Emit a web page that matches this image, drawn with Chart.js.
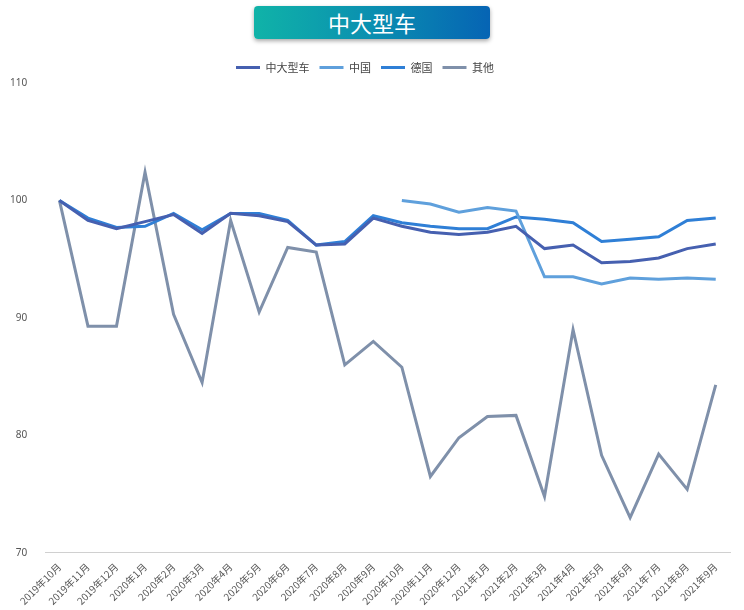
<!DOCTYPE html>
<html>
<head>
<meta charset="utf-8">
<script src="https://cdn.jsdelivr.net/npm/chart.js@4"></script>
<style>
  body { margin: 0; background: #fff; font-family: "Noto Sans CJK SC", "Noto Sans", sans-serif; }
  #title {
    position: absolute; left: 254px; top: 6px; width: 236px; height: 33px;
    border-radius: 4px; color: #fff; font-size: 22px; line-height: 33px; text-align: center;
    background: linear-gradient(90deg, #10b3a8, #0a8fb0 50%, #0664b4);
    box-shadow: 0 2px 4px rgba(0,0,0,0.35);
  }
  #wrap { position: absolute; left: 0; top: 52px; width: 744px; height: 558px; }
</style>
</head>
<body>
<div id="title">中大型车</div>
<div id="wrap"><canvas id="chart"></canvas></div>
<script>
const months = ["2019年10月","2019年11月","2019年12月","2020年1月","2020年2月","2020年3月","2020年4月","2020年5月","2020年6月","2020年7月","2020年8月","2020年9月","2020年10月","2020年11月","2020年12月","2021年1月","2021年2月","2021年3月","2021年4月","2021年5月","2021年6月","2021年7月","2021年8月","2021年9月"];
const bigCars = [100, 98.3, 97.6, 98.2, 98.8, 97.2, 98.9, 98.7, 98.2, 96.2, 96.3, 98.5, 97.8, 97.3, 97.1, 97.3, 97.8, 95.9, 96.2, 94.7, 94.8, 95.1, 95.9, 96.3];
const china = [null, null, null, null, null, null, null, null, null, null, null, null, 100, 99.7, 99.0, 99.4, 99.1, 93.5, 93.5, 92.9, 93.4, 93.3, 93.4, 93.3];
const germany = [100, 98.5, 97.7, 97.8, 98.9, 97.5, 98.9, 98.9, 98.3, 96.2, 96.5, 98.7, 98.1, 97.8, 97.6, 97.6, 98.6, 98.4, 98.1, 96.5, 96.7, 96.9, 98.3, 98.5];
const others = [100, 89.3, 89.3, 102.4, 90.3, 84.5, 98.3, 90.5, 96.0, 95.6, 86.0, 88.0, 85.8, 76.5, 79.8, 81.6, 81.7, 74.8, 89.0, 78.3, 73.0, 78.4, 75.4, 84.3];
const yTicks = [70, 80, 90, 100, 110];

function line(label, data, color) {
  return { label, data, borderColor: color, backgroundColor: color, borderWidth: 3,
    pointRadius: 0, tension: 0, spanGaps: false };
}

new Chart(document.getElementById("chart"), {
  type: "line",
  data: {
    labels: months,
    datasets: [
      line("中大型车", bigCars, "#4660b0"),
      line("中国", china, "#5fa0dc"),
      line("德国", germany, "#2f7fd6"),
      line("其他", others, "#7f90aa")
    ]
  },
  options: {
    responsive: true, maintainAspectRatio: false, animation: false,
    layout: { padding: { left: 0, right: 14, top: 0, bottom: 0 } },
    plugins: {
      legend: {
        position: "top",
        labels: {
          font: { size: 11, family: "Noto Sans CJK SC" }, color: "#444",
          boxWidth: 24, boxHeight: 3, padding: 10,
          generateLabels: c => c.data.datasets.map((d, i) => ({
            text: d.label, fillStyle: d.borderColor, strokeStyle: d.borderColor,
            lineWidth: 0, datasetIndex: i, fontColor: "#444"
          }))
        }
      },
      tooltip: { enabled: false }
    },
    scales: {
      x: {
        offset: true,
        grid: { display: false, drawTicks: true, tickLength: 5 },
        border: { color: "#d0d0d0" },
        ticks: { maxRotation: 45, minRotation: 45, autoSkip: false,
          font: { size: 10, family: "Noto Sans CJK SC" }, color: "#555" }
      },
      y: {
        min: 70, max: 110,
        afterBuildTicks: a => { a.ticks = yTicks.map(v => ({ value: v })); },
        grid: { display: false },
        border: { display: false },
        ticks: { font: { size: 10, family: "Noto Sans" }, color: "#555", padding: 10 }
      }
    }
  }
});
</script>
</body>
</html>
